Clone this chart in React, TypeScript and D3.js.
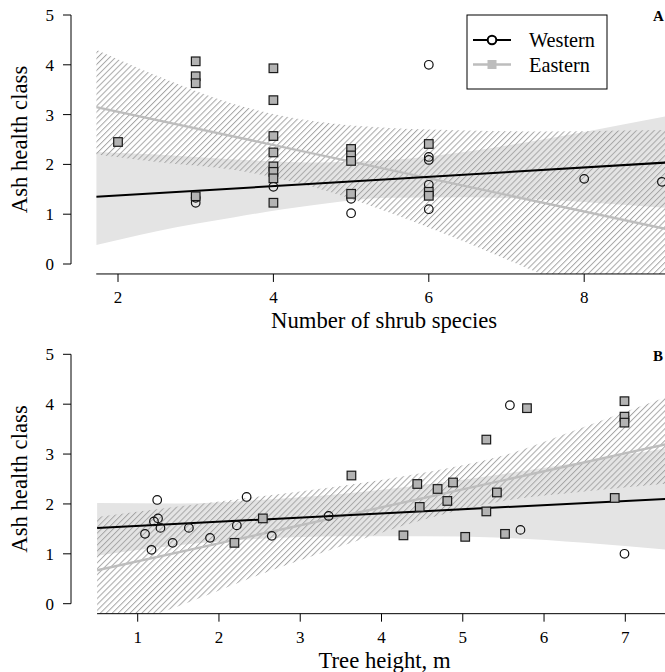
import { useEffect, useRef } from "react";
import * as d3 from "d3";

type Pt = [number, number];

// ---- Panel A: number of shrub species ----
const shrubWestern: Pt[] = [
  [3, 1.23], [3, 1.33], [4, 1.55], [5, 1.31], [5, 1.02],
  [6, 4.0], [6, 2.15], [6, 2.09], [6, 1.59], [6, 1.1], [8, 1.71], [9, 1.65],
];
const shrubEastern: Pt[] = [
  [2, 2.45], [3, 4.07], [3, 3.77], [3, 3.63], [3, 1.36],
  [4, 3.93], [4, 3.29], [4, 2.57], [4, 2.24], [4, 1.96], [4, 1.85], [4, 1.72], [4, 1.23],
  [5, 2.31], [5, 2.18], [5, 2.07], [5, 1.41],
  [6, 2.41], [6, 1.45], [6, 1.37],
];
const shrubBandX = [1.72, 2.5, 3.5, 4.5, 5.5, 6.5, 7.5, 8.5, 9.3];
const shrubWestUpper = [2.25, 2.2, 2.1, 2.04, 2.09, 2.26, 2.51, 2.8, 3.04];
const shrubWestLower = [0.38, 0.66, 0.94, 1.18, 1.33, 1.34, 1.29, 1.19, 1.1];
const shrubEastUpper = [4.3, 3.78, 3.21, 2.87, 2.73, 2.68, 2.66, 2.68, 2.7];
const shrubEastLower = [2.2, 2.05, 1.89, 1.55, 1.03, 0.42, -0.24, -0.92, -1.47];
const shrubWestFit: Pt[] = [[1.72, 1.35], [9.3, 2.06]];
const shrubEastFit: Pt[] = [[1.72, 3.15], [9.3, 0.62]];
const shrubTicks = [2, 4, 6, 8];

// ---- Panel B: tree height ----
const heightWestern: Pt[] = [
  [1.09, 1.4], [1.17, 1.08], [1.2, 1.65], [1.24, 2.08], [1.25, 1.71], [1.28, 1.52],
  [1.43, 1.22], [1.63, 1.52], [1.89, 1.32], [2.22, 1.57], [2.34, 2.14], [2.65, 1.36],
  [3.35, 1.76], [5.58, 3.98], [5.71, 1.48], [6.99, 1.0],
];
const heightEastern: Pt[] = [
  [2.19, 1.22], [2.54, 1.71], [3.63, 2.57], [4.27, 1.37], [4.44, 2.4], [4.47, 1.94],
  [4.69, 2.3], [4.81, 2.06], [4.88, 2.43], [5.03, 1.34], [5.29, 3.29], [5.29, 1.85],
  [5.42, 2.23], [5.52, 1.4], [5.79, 3.92], [6.87, 2.12], [6.99, 4.06], [6.99, 3.75], [6.99, 3.63],
];
const heightBandX = [0.5, 1.5, 2.5, 3.5, 4.5, 5.5, 6.5, 7.6];
const heightWestUpper = [2.02, 2.01, 2.08, 2.2, 2.38, 2.6, 2.85, 3.14];
const heightWestLower = [0.96, 1.17, 1.3, 1.35, 1.35, 1.32, 1.22, 1.07];
const heightEastUpper = [1.74, 1.95, 2.15, 2.36, 2.62, 2.97, 3.55, 4.2];
const heightEastLower = [-0.6, -0.05, 0.58, 1.15, 1.68, 2.06, 2.25, 2.42];
const heightWestFit: Pt[] = [[0.5, 1.52], [7.6, 2.11]];
const heightEastFit: Pt[] = [[0.5, 0.67], [7.6, 3.23]];
const heightTicks = [1, 2, 3, 4, 5, 6, 7];

const healthTicks = [0, 1, 2, 3, 4, 5];
const seriesNames = ["Western", "Eastern"];

const FONT = "'Liberation Serif', 'Times New Roman', serif";
const BAND = "#e4e4e4";
const HATCH = "#a6a6a6";
const EAST_LINE = "#bdbdbd";
const SQUARE_FILL = "#b3b3b3";

interface PanelSpec {
  id: string;
  tag: string;
  xTitle: string;
  xDomain: [number, number];
  xRange: [number, number];
  yRange: [number, number];
  xMin: number;
  ticks: number[];
  western: Pt[];
  eastern: Pt[];
  bandX: number[];
  westUpper: number[];
  westLower: number[];
  eastUpper: number[];
  eastLower: number[];
  westFit: Pt[];
  eastFit: Pt[];
  tagY: number;
  legend: boolean;
}

const panels: PanelSpec[] = [
  {
    id: "a", tag: "A", xTitle: "Number of shrub species",
    xDomain: [2, 8], xRange: [118, 584.2], yRange: [264, 15], xMin: 1.72,
    ticks: shrubTicks, western: shrubWestern, eastern: shrubEastern,
    bandX: shrubBandX, westUpper: shrubWestUpper, westLower: shrubWestLower,
    eastUpper: shrubEastUpper, eastLower: shrubEastLower,
    westFit: shrubWestFit, eastFit: shrubEastFit, tagY: 21, legend: true,
  },
  {
    id: "b", tag: "B", xTitle: "Tree height, m",
    xDomain: [1, 7], xRange: [137.7, 625.3], yRange: [603.7, 354.3], xMin: 0.5,
    ticks: heightTicks, western: heightWestern, eastern: heightEastern,
    bandX: heightBandX, westUpper: heightWestUpper, westLower: heightWestLower,
    eastUpper: heightEastUpper, eastLower: heightEastLower,
    westFit: heightWestFit, eastFit: heightEastFit, tagY: 361, legend: false,
  },
];

function drawPanel(svg: d3.Selection<SVGSVGElement, unknown, null, undefined>, p: PanelSpec) {
  const x = d3.scaleLinear().domain(p.xDomain).range(p.xRange);
  const y = d3.scaleLinear().domain([0, 5]).range(p.yRange);
  const left = x(p.xMin);
  const axisY = y(-0.2);
  const topY = y(5.2);
  const axisX = 71;

  svg.select("defs")
    .append("clipPath")
    .attr("id", `clip-${p.id}`)
    .append("rect")
    .attr("x", left)
    .attr("y", topY)
    .attr("width", 700 - left)
    .attr("height", axisY - topY);

  const g = svg.append("g");
  const plot = g.append("g").attr("clip-path", `url(#clip-${p.id})`);

  const band = (upper: number[], lower: number[]) =>
    d3.area<number>()
      .x((d) => x(d))
      .y0((_, i) => y(lower[i]))
      .y1((_, i) => y(upper[i]))
      .curve(d3.curveMonotoneX)(p.bandX);

  plot.append("path").attr("d", band(p.westUpper, p.westLower)).attr("fill", BAND);
  plot.append("path").attr("d", band(p.eastUpper, p.eastLower)).attr("fill", "url(#hatch)");

  const line = d3.line<Pt>().x((d) => x(d[0])).y((d) => y(d[1]));
  plot.append("path").attr("d", line(p.eastFit)).attr("fill", "none")
    .attr("stroke", EAST_LINE).attr("stroke-width", 2.4);
  plot.append("path").attr("d", line(p.westFit)).attr("fill", "none")
    .attr("stroke", "#000").attr("stroke-width", 2);

  plot.selectAll("circle.w").data(p.western).join("circle")
    .attr("class", "w")
    .attr("cx", (d) => x(d[0]))
    .attr("cy", (d) => y(d[1]))
    .attr("r", 4.3)
    .attr("fill", "none")
    .attr("stroke", "#111")
    .attr("stroke-width", 1.2);

  plot.selectAll("rect.e").data(p.eastern).join("rect")
    .attr("class", "e")
    .attr("x", (d) => x(d[0]) - 4.3)
    .attr("y", (d) => y(d[1]) - 4.3)
    .attr("width", 8.6)
    .attr("height", 8.6)
    .attr("fill", SQUARE_FILL)
    .attr("stroke", "#1a1a1a")
    .attr("stroke-width", 1.2);

  // y axis
  g.append("line").attr("x1", axisX).attr("x2", axisX)
    .attr("y1", y(0)).attr("y2", y(5)).attr("stroke", "#000");
  healthTicks.forEach((t) => {
    g.append("line").attr("x1", axisX - 8).attr("x2", axisX)
      .attr("y1", y(t)).attr("y2", y(t)).attr("stroke", "#000");
    g.append("text").attr("x", 54).attr("y", y(t) + 6)
      .attr("text-anchor", "end").style("font-size", "17px").text(t);
  });

  // x axis
  g.append("line").attr("x1", left).attr("x2", 700)
    .attr("y1", axisY).attr("y2", axisY).attr("stroke", "#000");
  p.ticks.forEach((t) => {
    g.append("line").attr("x1", x(t)).attr("x2", x(t))
      .attr("y1", axisY).attr("y2", axisY + 8).attr("stroke", "#000");
    g.append("text").attr("x", x(t)).attr("y", axisY + 29)
      .attr("text-anchor", "middle").style("font-size", "17px").text(t);
  });

  g.append("text").attr("x", (left + 672) / 2).attr("y", axisY + 54)
    .attr("text-anchor", "middle").style("font-size", "22.7px").text(p.xTitle);
  g.append("text")
    .attr("transform", `translate(27,${(axisY + topY) / 2}) rotate(-90)`)
    .attr("text-anchor", "middle").style("font-size", "22.7px").text("Ash health class");

  g.append("text").attr("x", 653).attr("y", p.tagY)
    .style("font-size", "15px").style("font-weight", "bold").text(p.tag);

  if (p.legend) {
    const lg = g.append("g");
    lg.append("rect").attr("x", 467).attr("y", 15).attr("width", 140).attr("height", 74)
      .attr("fill", "#fff").attr("stroke", "#000").attr("stroke-width", 1);
    seriesNames.forEach((name, i) => {
      const cy = 40 + i * 24.5;
      lg.append("line").attr("x1", 473).attr("x2", 511).attr("y1", cy).attr("y2", cy)
        .attr("stroke", i === 0 ? "#000" : EAST_LINE).attr("stroke-width", i === 0 ? 2.2 : 2.4);
      if (i === 0) {
        lg.append("circle").attr("cx", 492).attr("cy", cy).attr("r", 4.3)
          .attr("fill", "#fff").attr("stroke", "#000").attr("stroke-width", 2);
      } else {
        lg.append("rect").attr("x", 487.5).attr("y", cy - 4.5).attr("width", 9).attr("height", 9)
          .attr("fill", EAST_LINE);
      }
      lg.append("text").attr("x", 529).attr("y", cy + 7)
        .style("font-size", "20.3px").text(name);
    });
  }
}

export default function App() {
  const svgRef = useRef<SVGSVGElement>(null);

  useEffect(() => {
    if (!svgRef.current) return;
    const svg = d3.select(svgRef.current);
    svg.selectAll("*").remove();
    const defs = svg.append("defs");
    const pat = defs.append("pattern")
      .attr("id", "hatch")
      .attr("patternUnits", "userSpaceOnUse")
      .attr("width", 4.2)
      .attr("height", 4.2)
      .attr("patternTransform", "rotate(45)");
    pat.append("line").attr("x1", 0.5).attr("y1", 0).attr("x2", 0.5).attr("y2", 4.2)
      .attr("stroke", HATCH).attr("stroke-width", 1);
    panels.forEach((p) => drawPanel(svg, p));
  }, []);

  return (
    <div style={{ position: "absolute", left: 0, top: 0 }}>
      <svg
        ref={svgRef}
        width={665}
        height={672}
        style={{ display: "block", fontFamily: FONT, background: "#fff" }}
      />
    </div>
  );
}
